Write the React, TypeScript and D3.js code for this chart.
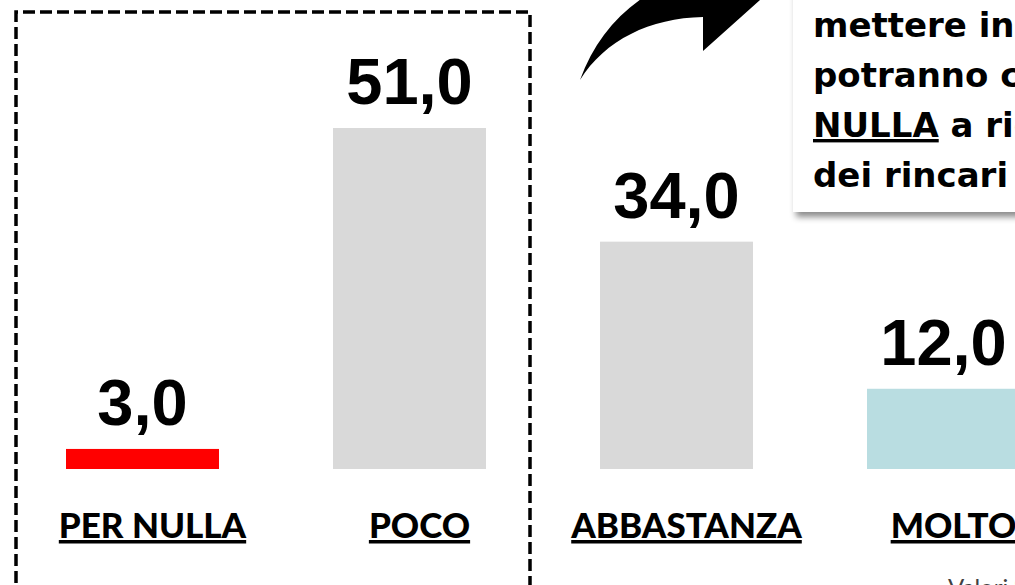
import React from 'react';
import { scaleBand, scaleLinear, max } from 'd3';

const W = 1015;
const H = 585;

const categories = ['PER NULLA', 'POCO', 'ABBASTANZA', 'MOLTO'];
const values = [3.0, 51.0, 34.0, 12.0];
const barColors = ['#ff0000', '#d9d9d9', '#d9d9d9', '#b9dde1'];
const noteLines = ['mettere in atto', 'potranno contribuire', 'NULLA a ridurre', 'dei rincari'];

const fmt = (v: number) => v.toFixed(1).replace('.', ',');

const base = 469;
const x = scaleBand<string>()
  .domain(categories)
  .range([66, 1020])
  .paddingInner(0.427)
  .paddingOuter(0);
const y = scaleLinear()
  .domain([0, max(values) as number])
  .range([base, 128]);

const catFont = "'Lato', 'Noto Sans', sans-serif";
const noteFont = "'DejaVu Sans', 'Lato', sans-serif";
const numFont = "'Liberation Sans', Arial, sans-serif";

export default function App() {
  const bw = x.bandwidth();
  return (
    <svg width={W} height={H} style={{ position: 'absolute', left: 0, top: 0, background: '#fff' }}>
      <defs>
        <filter id="shadow" x="-10%" y="-10%" width="130%" height="140%">
          <feDropShadow dx="3" dy="5" stdDeviation="3" floodColor="#000" floodOpacity="0.45" />
        </filter>
      </defs>

      {/* dashed frame around the first two bars */}
      <path d="M16,600 V12 H530 V600" fill="none" stroke="#000" strokeWidth={3.5} strokeDasharray="12 5" />

      {/* curved arrow */}
      <path
        d="M580,80 C600,25 640,-10 700,-30 L760,0 L703,51 L703,17 C650,18 605,40 580,80 Z"
        fill="#000"
      />

      {/* note box */}
      <rect x={793} y={-20} width={260} height={232} fill="#fff" filter="url(#shadow)" />
      <g fontFamily={noteFont} fontWeight={700} fontSize={34} fill="#000">
        {noteLines.map((t, i) => {
          const ty = 37 + i * 50;
          if (i === 2) {
            return (
              <text key={i} x={813} y={ty}>
                <tspan textDecoration="underline">NULLA</tspan>
                {' a ridurre'}
              </text>
            );
          }
          return (
            <text key={i} x={813} y={ty}>{t}</text>
          );
        })}
      </g>

      {/* bars */}
      {categories.map((c, i) => (
        <rect key={c} x={x(c)} y={y(values[i])} width={bw} height={base - y(values[i])} fill={barColors[i]} />
      ))}

      {/* value labels */}
      {categories.map((c, i) => (
        <text
          key={c}
          x={(x(c) as number) + bw / 2}
          y={y(values[i]) - 24}
          textAnchor="middle"
          fontFamily={numFont}
          fontWeight={700}
          fontSize={65}
          fill="#000"
        >
          {fmt(values[i])}
        </text>
      ))}

      {/* category labels */}
      {categories.map((c) => (
        <text
          key={c}
          x={(x(c) as number) + bw / 2 + 10}
          y={538}
          textAnchor="middle"
          fontFamily={catFont}
          fontWeight={900}
          fontSize={35}
          fill="#000"
          textDecoration="underline"
        >
          {c}
        </text>
      ))}

      <text x={948} y={596} fontFamily={catFont} fontSize={24} fill="#404040">Valori %</text>
    </svg>
  );
}
